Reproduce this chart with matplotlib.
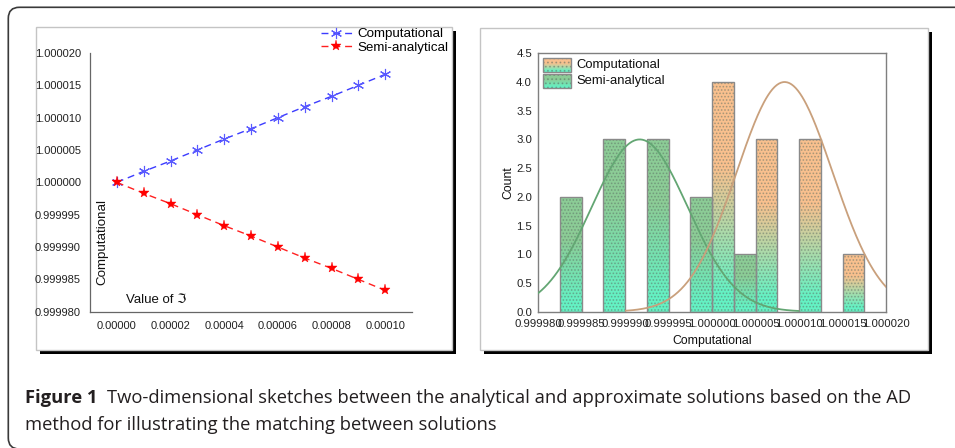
import numpy as np
import matplotlib
matplotlib.use("Agg")
import matplotlib.pyplot as plt
from matplotlib.patches import Rectangle, FancyBboxPatch

# ---- data -------------------------------------------------------------
x_vals = [0.0, 1e-5, 2e-5, 3e-5, 4e-5, 5e-5, 6e-5, 7e-5, 8e-5, 9e-5, 1e-4]
comp_vals = [1.0, 1.0000017, 1.0000033, 1.000005, 1.0000067, 1.0000083,
             1.00001, 1.0000117, 1.0000133, 1.000015, 1.0000167]
semi_vals = [1.0, 0.9999983, 0.9999967, 0.999995, 0.9999933, 0.9999917,
             0.99999, 0.9999883, 0.9999867, 0.999985, 0.9999833]

bin_width = 2.5e-6
semi_bins = [0.9999825, 0.9999875, 0.9999925, 0.9999975, 1.0000025]
semi_counts = [2, 3, 3, 2, 1]
comp_bins = [1.0, 1.000005, 1.00001, 1.000015]
comp_counts = [4, 3, 3, 1]

left_yticks = [0.99998, 0.999985, 0.99999, 0.999995, 1.0, 1.000005, 1.00001, 1.000015, 1.00002]
left_xticks = [0.0, 2e-5, 4e-5, 6e-5, 8e-5, 1e-4]
right_xticks = [0.99998, 0.999985, 0.99999, 0.999995, 1.0, 1.000005, 1.00001, 1.000015, 1.00002]
right_yticks = [0.0, 0.5, 1.0, 1.5, 2.0, 2.5, 3.0, 3.5, 4.0, 4.5]

caption_bold = "Figure 1"
caption_line1 = "Two-dimensional sketches between the analytical and approximate solutions based on the AD"
caption_line2 = "method for illustrating the matching between solutions"

# ---- figure -----------------------------------------------------------
W, H = 955, 448
plt.rcParams['font.family'] = ['Liberation Sans', 'DejaVu Sans']
fig = plt.figure(figsize=(W / 100, H / 100), dpi=100)
fig.patch.set_facecolor('white')


def fig_rect(x0, y0, x1, y1):
    # pixel box (top-left origin) -> figure fraction
    return [x0 / W, 1 - y1 / H, (x1 - x0) / W, (y1 - y0) / H]


bg = fig.add_axes([0, 0, 1, 1], zorder=0)
bg.set_xlim(0, W)
bg.set_ylim(H, 0)
bg.axis('off')

# outer rounded frame (right and bottom edges fall outside the picture)
bg.add_patch(FancyBboxPatch((8.3, 7.3), 980, 441.7, boxstyle="round,pad=0,rounding_size=11",
                            facecolor='none', edgecolor='#3a3a3a', linewidth=1.2))

# panel boxes with drop shadows
for (x0, y0, x1, y1) in [(36, 27, 452, 350), (480, 28, 928, 350)]:
    bg.add_patch(Rectangle((x0 + 4, y0 + 4), x1 - x0, y1 - y0, facecolor='black', edgecolor='none'))
    bg.add_patch(Rectangle((x0, y0), x1 - x0, y1 - y0, facecolor='white', edgecolor='#c4c4c4', linewidth=1))

# ---- left panel -------------------------------------------------------
ax1 = fig.add_axes(fig_rect(90, 53, 412, 311.7), zorder=1)
ax1.patch.set_visible(False)
ax1.plot(x_vals, comp_vals, linestyle='--', color='#3c3cff', linewidth=1, dashes=(5, 3.5),
         marker=(6, 2, 0), markersize=8, markeredgewidth=0.8, markeredgecolor='#5a5aff',
         label='Computational')
ax1.plot(x_vals, semi_vals, linestyle='--', color='#ff2020', linewidth=1, dashes=(5, 3.5),
         marker='*', markersize=8, markeredgewidth=0.3, markerfacecolor='red', markeredgecolor='red',
         label='Semi-analytical')
ax1.set_xlim(-1e-5, 1.1e-4)
ax1.set_ylim(0.99998, 1.00002)
ax1.set_yticks(left_yticks)
ax1.set_yticklabels(["%.6f" % v for v in left_yticks])
ax1.set_xticks(left_xticks)
ax1.set_xticklabels(["%.5f" % v for v in left_xticks])
ax1.tick_params(axis='both', length=0, labelsize=8, colors='#222222')
ax1.tick_params(axis='y', pad=6.5)
ax1.tick_params(axis='x', pad=6.5)
for s in ['top', 'right']:
    ax1.spines[s].set_visible(False)
for s in ['left', 'bottom']:
    ax1.spines[s].set_color('#666666')
    ax1.spines[s].set_linewidth(0.9)
ax1.legend(loc='upper right', bbox_to_anchor=(448 / W, 1 - 28 / H), bbox_transform=fig.transFigure,
           frameon=False, fontsize=9.6, handlelength=2.3, handletextpad=0.4, labelspacing=0.1,
           borderpad=0, borderaxespad=0)

bg.text(102, 242, "Computational", rotation=90, ha='center', va='center', fontsize=9.6, color='#111111', zorder=5)
bg.text(126, 300, "Value of \u2111", ha='left', va='center', fontsize=9.5, color='#111111', zorder=5)

# ---- right panel ------------------------------------------------------
ax2 = fig.add_axes(fig_rect(538.3, 53.3, 886, 311.7), zorder=1)
ax2.patch.set_visible(False)

comp_top = np.array([249, 192, 142]) / 255
semi_top = np.array([140, 204, 150]) / 255
bottom_col = np.array([100, 242, 196]) / 255
dot_col = (0.35, 0.42, 0.38, 0.45)
edge_col = '#8a8a8a'
plt.rcParams['hatch.linewidth'] = 0.8


def gradient(top):
    frac = np.linspace(0, 1, 120)[:, None]
    w = np.clip((frac - 0.08) / 0.55, 0, 1)
    return (bottom_col * (1 - w) + top * w)[:, None, :].reshape(120, 1, 3)


def draw_bars(bins, counts, top):
    for left, h in zip(bins, counts):
        ax2.imshow(gradient(top), extent=[left, left + bin_width, 0, h], origin='lower',
                   aspect='auto', interpolation='bilinear', zorder=1)
    ax2.bar(bins, counts, width=bin_width, align='edge', fill=False, hatch='.....',
            edgecolor=dot_col, linewidth=0, zorder=2)
    ax2.bar(bins, counts, width=bin_width, align='edge', fill=False,
            edgecolor=edge_col, linewidth=1, zorder=3)


draw_bars(semi_bins, semi_counts, semi_top)
draw_bars(comp_bins, comp_counts, comp_top)

# normal fit curves from the sample values
for vals, counts, col in [(semi_vals, semi_counts, '#63a673'), (comp_vals, comp_counts, '#c9a07c')]:
    mu = np.mean(vals)
    sd = np.std(vals, ddof=1)
    xs = np.linspace(mu - 3.3 * sd, mu + 3.3 * sd, 300)
    ys = max(counts) * np.exp(-0.5 * ((xs - mu) / sd) ** 2)
    ax2.plot(xs, ys, color=col, linewidth=1.3, zorder=4)

ax2.set_xlim(0.99998, 1.00002)
ax2.set_ylim(0, 4.5)
ax2.set_xticks(right_xticks)
ax2.set_xticklabels(["%.6f" % v for v in right_xticks])
ax2.set_yticks(right_yticks)
ax2.set_yticklabels(["%.1f" % v for v in right_yticks])
ax2.tick_params(axis='both', length=0, labelsize=8.2, colors='#222222')
ax2.tick_params(axis='y', pad=4.5)
ax2.tick_params(axis='x', pad=5)
for s in ax2.spines.values():
    s.set_color('#7f7f7f')
    s.set_linewidth(1)

bg.text(508, 183, "Count", rotation=90, ha='center', va='center', fontsize=8.8, color='#111111')
bg.text(712, 341, "Computational", ha='center', va='center', fontsize=8.8, color='#111111')

# legend of the right panel
for (y0, top, label) in [(58, comp_top, "Computational"), (74, semi_top, "Semi-analytical")]:
    bg.imshow(gradient(top)[::-1], extent=[543, 571, y0 + 14, y0], origin='upper',
              aspect='auto', interpolation='bilinear', zorder=6)
    bg.add_patch(Rectangle((543, y0), 28, 14, fill=False, hatch='....', edgecolor=dot_col,
                           linewidth=0, zorder=7))
    bg.add_patch(Rectangle((543, y0), 28, 14, fill=False, edgecolor=edge_col, linewidth=1, zorder=8))
    bg.text(576, y0 + 7, label, ha='left', va='center', fontsize=9.4, color='#111111', zorder=9)
bg.set_xlim(0, W)
bg.set_ylim(H, 0)

# ---- caption ----------------------------------------------------------
cap_font = ['Open Sans', 'DejaVu Sans']
cap_size = 13.2
t_bold = bg.text(25, 398, caption_bold, ha='left', va='center', fontsize=cap_size, fontweight='bold',
                 family=cap_font, color='#231f20')
fig.canvas.draw()
bb = t_bold.get_window_extent(fig.canvas.get_renderer())
bg.text(bb.x1 + 9, 398, caption_line1, ha='left', va='center', fontsize=cap_size,
        family=cap_font, color='#231f20')
bg.text(25, 425, caption_line2, ha='left', va='center', fontsize=cap_size,
        family=cap_font, color='#231f20')

fig.savefig("out.png", dpi=100)
